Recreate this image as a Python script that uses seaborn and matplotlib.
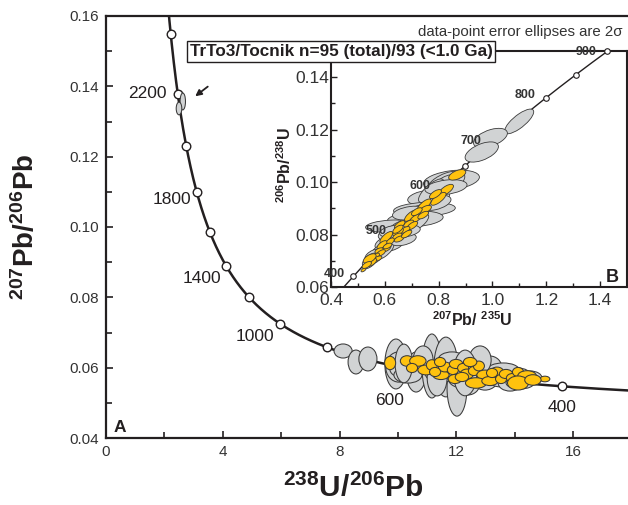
import numpy as np
import pandas as pd
import seaborn as sns
import matplotlib.pyplot as plt
from matplotlib.patches import Ellipse
from matplotlib.ticker import FixedLocator, MultipleLocator, FormatStrFormatter

sns.set_theme(style="white")
plt.rcParams["font.family"] = ["Liberation Sans", "DejaVu Sans"]
plt.rcParams["mathtext.fontset"] = "custom"
plt.rcParams["mathtext.rm"] = "Liberation Sans"
plt.rcParams["mathtext.bf"] = "Liberation Sans:bold"
plt.rcParams["mathtext.it"] = "Liberation Sans:italic"

INK = "#231f20"
GREY = "#d1d3d4"
GOLD = "#ffc20e"
EDGE = "#3a3a3a"

# decay constants (1/yr) and present-day 238U/235U
L238 = 1.55125e-10
L235 = 9.8485e-10
U_RATIO = 137.88

# ---- analyses, Tera-Wasserburg space: 238U/206Pb, 207Pb/206Pb and 2-sigma half-axes
grey_u = [2.63, 2.50, 8.12, 8.56, 8.97, 9.93, 10.03, 10.10, 10.62, 11.16, 11.64, 12.02,
          12.57, 12.98, 13.49, 14.08, 14.52, 11.44, 12.19, 10.86, 13.15, 13.84,
          10.34, 11.85, 12.40, 13.60, 11.34, 12.81, 14.18, 10.20, 12.30]
grey_pb = [0.1357, 0.1337, 0.06474, 0.06161, 0.06247, 0.06105, 0.06019, 0.05962, 0.05877,
           0.06048, 0.06019, 0.05422, 0.05934, 0.05792, 0.05735, 0.05764, 0.05707, 0.05849,
           0.05706, 0.06218, 0.05991, 0.05564,
           0.05792, 0.06218, 0.05564, 0.05934, 0.05707, 0.06218, 0.05564, 0.06120, 0.05850]
grey_du = [0.092, 0.096, 0.31, 0.27, 0.31, 0.38, 0.45, 0.38, 0.34, 0.34, 0.41, 0.34,
           0.45, 0.51, 0.45, 0.48, 0.41, 0.51, 0.48, 0.34, 0.41, 0.41,
           0.48, 0.48, 0.41, 0.55, 0.34, 0.38, 0.48, 0.30, 0.40]
grey_dpb = [0.0024, 0.0018, 0.0020, 0.0034, 0.0034, 0.0071, 0.0043, 0.0023, 0.0057,
            0.0091, 0.0085, 0.0080, 0.0051, 0.0043, 0.0028, 0.0023, 0.0020, 0.0028,
            0.0028, 0.0040, 0.0034, 0.0023,
            0.0023, 0.0023, 0.0034, 0.0020, 0.0051, 0.0040, 0.0017, 0.0055, 0.0065]

gold_u = [9.73, 10.31, 10.68, 10.96, 11.16, 11.47, 11.61, 11.88, 11.99, 12.23, 12.36,
          12.60, 12.77, 12.98, 12.67, 13.15, 13.39, 13.53, 13.70, 13.94, 14.11, 14.42,
          14.11, 15.03, 11.95, 11.44, 12.19, 12.47, 10.48, 11.27, 13.22, 14.62]
gold_pb = [0.06133, 0.06190, 0.06190, 0.05934, 0.06076, 0.05792, 0.06019, 0.05934,
           0.06105, 0.05991, 0.05820, 0.05905, 0.06048, 0.05792, 0.05564, 0.05621,
           0.05877, 0.05678, 0.05820, 0.05707, 0.05877, 0.05764, 0.05564, 0.05678,
           0.05678, 0.06161, 0.05735, 0.06161, 0.05991, 0.05877, 0.05849, 0.05650]
gold_du = [0.19, 0.23, 0.28, 0.28, 0.19, 0.28, 0.23, 0.19, 0.23, 0.19, 0.23, 0.19, 0.19,
           0.28, 0.36, 0.28, 0.23, 0.19, 0.23, 0.23, 0.19, 0.32, 0.36, 0.17, 0.23, 0.19,
           0.23, 0.23, 0.19, 0.19, 0.19, 0.28]
gold_dpb = [0.0019, 0.0015, 0.0015, 0.0014, 0.0015, 0.0013, 0.0014, 0.0013, 0.0013,
            0.0013, 0.0014, 0.0013, 0.0014, 0.0014, 0.0015, 0.0013, 0.0014, 0.0013,
            0.0013, 0.0013, 0.0013, 0.0015, 0.0020, 0.0008, 0.0013, 0.0013, 0.0013,
            0.0013, 0.0013, 0.0013, 0.0013, 0.0015]

# ---- concordia age marks (Ma) and label offsets in pixels
main_marks = [400, 600, 800, 1000, 1200, 1400, 1600, 1800, 2000, 2200, 2400]
main_labels = {2200: (-30, 0), 1800: (-25, 8), 1400: (-24, 12), 1000: (-25, 13),
               600: (-16, 32), 400: (0, 21)}
inset_marks = [400, 450, 500, 550, 600, 650, 700, 750, 800, 850, 900]
inset_labels = {900: (-21, 1), 800: (-21, -3), 700: (-20, -3), 600: (-20, -3),
                500: (-18, -2), 400: (-19, -2)}


def concordia_tw(t_ma):
    t = np.asarray(t_ma, dtype=float) * 1e6
    e238 = np.expm1(L238 * t)
    e235 = np.expm1(L235 * t)
    return 1.0 / e238, e235 / e238 / U_RATIO


def concordia_weth(t_ma):
    t = np.asarray(t_ma, dtype=float) * 1e6
    return np.expm1(L235 * t), np.expm1(L238 * t)


def add_ellipse(ax, cx, cy, m, **kw):
    s = m @ m.T
    vals, vecs = np.linalg.eigh(s)
    w = 2 * np.sqrt(max(vals[1], 0))
    h = 2 * np.sqrt(max(vals[0], 0))
    ang = np.degrees(np.arctan2(vecs[1, 1], vecs[0, 1]))
    ax.add_patch(Ellipse((cx, cy), w, h, angle=ang, **kw))


def draw_tw(ax, u, pb, du, dpb, fc, z):
    for x, y, a, b in zip(u, pb, du, dpb):
        add_ellipse(ax, x, y, np.diag([a, b]), fc=fc, ec=EDGE, lw=0.75, zorder=z)


def draw_weth(ax, u, pb, du, dpb, fc, z):
    # same analyses converted to 207Pb/235U - 206Pb/238U with linear error propagation
    for x, y, a, b in zip(u, pb, du, dpb):
        X = U_RATIO * y / x
        Y = 1.0 / x
        J = np.array([[-U_RATIO * y / x**2, U_RATIO / x],
                      [-1.0 / x**2, 0.0]])
        add_ellipse(ax, X, Y, J @ np.diag([a, b]), fc=fc, ec=EDGE, lw=0.6, zorder=z)


fig = plt.figure(figsize=(6.28, 5.05), dpi=100)

# ================= main Tera-Wasserburg panel =================
ax = fig.add_axes([106 / 628, 67 / 505, 525.6 / 628, 422 / 505])
ages = np.linspace(150, 2700, 600)
cx, cy = concordia_tw(ages)
curve = pd.DataFrame({"u": cx, "pb": cy})
sns.lineplot(data=curve, x="u", y="pb", sort=False, estimator=None, color=INK,
             lw=1.8, ax=ax, zorder=2)
mx, my = concordia_tw(main_marks)
marks = pd.DataFrame({"u": mx, "pb": my})
sns.scatterplot(data=marks, x="u", y="pb", marker="o", s=38, color="white",
                edgecolor=INK, linewidth=1.0, ax=ax, zorder=3)
for age, off in main_labels.items():
    px, py = concordia_tw([age])
    ax.annotate(str(age), (px[0], py[0]), xytext=(off[0], -off[1]),
                textcoords="offset pixels", ha="center", va="center",
                fontsize=12.5, color=INK, zorder=6)

draw_tw(ax, grey_u, grey_pb, grey_du, grey_dpb, GREY, 4)
draw_tw(ax, gold_u, gold_pb, gold_du, gold_dpb, GOLD, 5)

ax.annotate("", xy=(2.98, 0.1367), xytext=(3.56, 0.1404),
            arrowprops=dict(arrowstyle="-|>", color=INK, lw=1.3, mutation_scale=9))

ax.set_xlim(0, 18)
ax.set_ylim(0.04, 0.16)
ax.xaxis.set_major_locator(FixedLocator([0, 4, 8, 12, 16]))
ax.xaxis.set_minor_locator(FixedLocator([2, 6, 10, 14]))
ax.yaxis.set_major_locator(MultipleLocator(0.02))
ax.yaxis.set_minor_locator(MultipleLocator(0.01))
ax.xaxis.set_major_formatter(FormatStrFormatter("%d"))
ax.yaxis.set_major_formatter(FormatStrFormatter("%.2f"))
ax.tick_params(which="both", direction="in", bottom=True, left=True, top=False,
               right=False, color=INK, width=1.2, labelcolor="#333333")
ax.tick_params(which="major", length=5, labelsize=11, pad=5)
ax.tick_params(which="minor", length=4)
for s in ax.spines.values():
    s.set_color(INK)
    s.set_linewidth(1.6)
ax.set_xlabel("")
ax.set_ylabel("")
ax.text(0.027, 0.006, "A", transform=ax.transAxes, fontsize=12.5, fontweight="bold",
        color=INK, ha="center", va="bottom")

# ================= inset Wetherill panel =================
ai = fig.add_axes([331 / 628, (505 - 287) / 505, 296 / 628, 236 / 505])
ages_i = np.linspace(300, 1000, 300)
wx, wy = concordia_weth(ages_i)
sns.lineplot(data=pd.DataFrame({"r75": wx, "r68": wy}), x="r75", y="r68", sort=False,
             estimator=None, color=INK, lw=1.0, ax=ai, zorder=2)
ix, iy = concordia_weth(inset_marks)
sns.scatterplot(data=pd.DataFrame({"r75": ix, "r68": iy}), x="r75", y="r68",
                marker="o", s=16, color="white", edgecolor=INK, linewidth=0.8,
                ax=ai, zorder=3, clip_on=False)
for age, off in inset_labels.items():
    px, py = concordia_weth([age])
    ai.annotate(str(age), (px[0], py[0]), xytext=(off[0], -off[1]),
                textcoords="offset pixels", ha="center", va="center",
                fontsize=9, fontweight="bold", color="#333333", zorder=6)

draw_weth(ai, grey_u, grey_pb, grey_du, grey_dpb, GREY, 4)
draw_weth(ai, gold_u, gold_pb, gold_du, gold_dpb, GOLD, 5)

ai.set_xlim(0.4, 1.5)
ai.set_ylim(0.06, 0.15)
ai.xaxis.set_major_locator(FixedLocator([0.4, 0.6, 0.8, 1.0, 1.2, 1.4]))
ai.xaxis.set_minor_locator(MultipleLocator(0.1))
ai.yaxis.set_major_locator(FixedLocator([0.06, 0.08, 0.10, 0.12, 0.14]))
ai.yaxis.set_minor_locator(MultipleLocator(0.01))
ai.xaxis.set_major_formatter(FormatStrFormatter("%.1f"))
ai.yaxis.set_major_formatter(FormatStrFormatter("%.2f"))
ai.tick_params(which="both", direction="in", bottom=True, left=True, top=False,
               right=False, color=INK, width=1.0, labelcolor="#333333")
ai.tick_params(which="major", length=4, labelsize=12.5)
ai.tick_params(axis="y", which="major", pad=1.5)
ai.tick_params(axis="x", which="major", pad=4.5)
ai.tick_params(which="minor", length=3)
for s in ai.spines.values():
    s.set_color(INK)
    s.set_linewidth(1.5)
ai.set_xlabel("")
ai.set_ylabel("")
ai.text(0.949, 0.04, "B", transform=ai.transAxes, fontsize=13, fontweight="bold",
        color=INK, ha="center", va="center")

# ================= labels and captions =================
fig.text(26 / 628, 1 - 227 / 505, r"$^{\mathbf{207}}\mathbf{Pb/}^{\mathbf{206}}\mathbf{Pb}$",
         rotation=90, ha="center", va="center", fontsize=20, color=INK)
fig.text(353 / 628, 2 / 505, r"$^{\mathbf{238}}\mathbf{U/}^{\mathbf{206}}\mathbf{Pb}$",
         ha="center", va="bottom", fontsize=21.5, color=INK)
fig.text(285 / 628, 1 - 165 / 505, r"$^{\mathbf{206}}\mathbf{Pb/}^{\mathbf{238}}\mathbf{U}$",
         rotation=90, ha="center", va="center", fontsize=11.5, color=INK)
fig.text(472 / 628, 1 - 320 / 505, r"$^{\mathbf{207}}\mathbf{Pb/\ }^{\mathbf{235}}\mathbf{U}$",
         ha="center", va="center", fontsize=11.5, color=INK)
fig.text(341 / 628, 1 - 51.5 / 505, "TrTo3/Tocnik n=95 (total)/93 (<1.0 Ga)",
         ha="center", va="center", fontsize=12.3, fontweight="bold", color=INK,
         bbox=dict(boxstyle="square,pad=0.15", fc="white", ec=INK, lw=1.0))
fig.text(622 / 628, 1 - 32 / 505, "data-point error ellipses are 2\u03c3",
         ha="right", va="center", fontsize=10.8, color="#333333")

fig.savefig("out.png", dpi=100)
